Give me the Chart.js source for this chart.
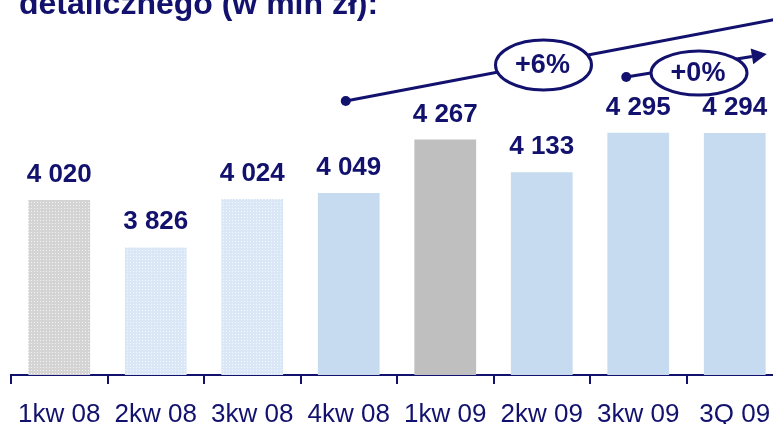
<!DOCTYPE html>
<html>
<head>
<meta charset="utf-8">
<script src="https://cdn.jsdelivr.net/npm/chart.js@4/dist/chart.umd.min.js"></script>
<style>
  html, body { margin: 0; padding: 0; background: #fff; overflow: hidden; }
  #wrap { position: relative; width: 800px; height: 424px; }
</style>
</head>
<body>
<div id="wrap"><canvas id="myChart"></canvas></div>
<script>
// dados do grafico
const quarters = ['1kw 08', '2kw 08', '3kw 08', '4kw 08', '1kw 09', '2kw 09', '3kw 09', '3Q 09'];
const values = [4020, 3826, 4024, 4049, 4267, 4133, 4295, 4294];
const valueLabels = ['4 020', '3 826', '4 024', '4 049', '4 267', '4 133', '4 295', '4 294'];
const titleText = 'detalicznego (w mln zł):';
const growthLabels = ['+6%', '+0%'];

const navy = '#12126e';

// padrao pontilhado para as barras antigas
function makePattern(base, dot) {
    const c = document.createElement('canvas');
    c.width = 3; c.height = 3;
    const g = c.getContext('2d');
    g.fillStyle = base;
    g.fillRect(0, 0, 3, 3);
    g.fillStyle = dot;
    g.fillRect(1, 1, 1, 1);
    return g.createPattern(c, 'repeat');
}
const grayDots = makePattern('#d4d4d4', '#f2f2f2');
const blueDots = makePattern('#dae7f6', '#f4f8fd');
const barColors = [grayDots, blueDots, blueDots, '#c6dbef', '#bfbfbf', '#c6dbef', '#c6dbef', '#c6dbef'];

// rotulos acima das barras, titulo e setas
const extras = {
    id: 'extras',
    afterDatasetsDraw(chart) {
        const ctx = chart.ctx;
        const meta = chart.getDatasetMeta(0);
        ctx.save();
        ctx.fillStyle = navy;
        ctx.font = 'bold 26px Arial, "Liberation Sans", sans-serif';
        ctx.textAlign = 'center';
        ctx.textBaseline = 'alphabetic';
        meta.data.forEach((bar, i) => {
            ctx.fillText(valueLabels[i], bar.x, bar.y - 18);
        });

        // titulo cortado no topo
        ctx.textAlign = 'left';
        ctx.font = 'bold 32px Arial, "Liberation Sans", sans-serif';
        ctx.fillText(titleText, 19, 14);

        const x = chart.scales.x;
        ctx.strokeStyle = navy;
        ctx.lineWidth = 3;

        // seta 1: 4kw08 -> fora da imagem
        const a1 = { x: x.getPixelForValue(3) - 3, y: 101 };
        const slope1 = -0.19;
        ctx.beginPath();
        ctx.moveTo(a1.x, a1.y);
        ctx.lineTo(800, a1.y + slope1 * (800 - a1.x));
        ctx.stroke();
        ctx.beginPath();
        ctx.arc(a1.x, a1.y, 5, 0, Math.PI * 2);
        ctx.fill();

        // seta 2: 3kw09 -> 3Q09
        const a2 = { x: x.getPixelForValue(6) - 12, y: 77 };
        const tip = { x: x.getPixelForValue(7) + 32, y: 54 };
        const ang = Math.atan2(tip.y - a2.y, tip.x - a2.x);
        const back = { x: tip.x - 15 * Math.cos(ang), y: tip.y - 15 * Math.sin(ang) };
        ctx.beginPath();
        ctx.moveTo(a2.x, a2.y);
        ctx.lineTo(back.x, back.y);
        ctx.stroke();
        ctx.beginPath();
        ctx.arc(a2.x, a2.y, 5, 0, Math.PI * 2);
        ctx.fill();
        ctx.beginPath();
        ctx.moveTo(tip.x, tip.y);
        ctx.lineTo(back.x + 8 * Math.sin(ang), back.y - 8 * Math.cos(ang));
        ctx.lineTo(back.x - 8 * Math.sin(ang), back.y + 8 * Math.cos(ang));
        ctx.closePath();
        ctx.fill();

        // elipses com as variacoes
        const ellipses = [
            { cx: 543.5, cy: 65, rx: 48, ry: 25, text: growthLabels[0] },
            { cx: 699, cy: 73, rx: 48, ry: 22, text: growthLabels[1] }
        ];
        ellipses.forEach(e => {
            ctx.beginPath();
            ctx.ellipse(e.cx, e.cy, e.rx, e.ry, 0, 0, Math.PI * 2);
            ctx.fillStyle = '#fff';
            ctx.fill();
            ctx.stroke();
            ctx.fillStyle = navy;
            ctx.textAlign = 'center';
            ctx.textBaseline = 'middle';
            ctx.font = 'bold 27px Arial, "Liberation Sans", sans-serif';
            ctx.fillText(e.text, e.cx - 1, e.cy + 1);
        });
        ctx.restore();
    }
};

new Chart(document.getElementById('myChart'), {
    type: 'bar',
    data: {
        labels: quarters,
        datasets: [{
            data: values,
            backgroundColor: barColors,
            borderWidth: 0,
            barPercentage: 0.64,
            categoryPercentage: 1
        }]
    },
    options: {
        responsive: true,
        maintainAspectRatio: false,
        animation: false,
        layout: { padding: { left: 11, right: 17, top: 0, bottom: 0 } },
        plugins: {
            legend: { display: false },
            tooltip: { enabled: false }
        },
        scales: {
            x: {
                afterFit(scale) { scale.height = 49; },
                border: { display: true, color: navy, width: 2 },
                grid: {
                    offset: true,
                    drawOnChartArea: false,
                    drawTicks: true,
                    tickLength: 9,
                    color: navy,
                    lineWidth: 2
                },
                ticks: {
                    color: navy,
                    font: { family: 'Arial, "Liberation Sans", sans-serif', size: 26 },
                    padding: 15,
                    maxRotation: 0,
                    autoSkip: false
                }
            },
            y: {
                display: false,
                min: 3304,
                max: 4838
            }
        }
    },
    plugins: [extras]
});
</script>
</body>
</html>
